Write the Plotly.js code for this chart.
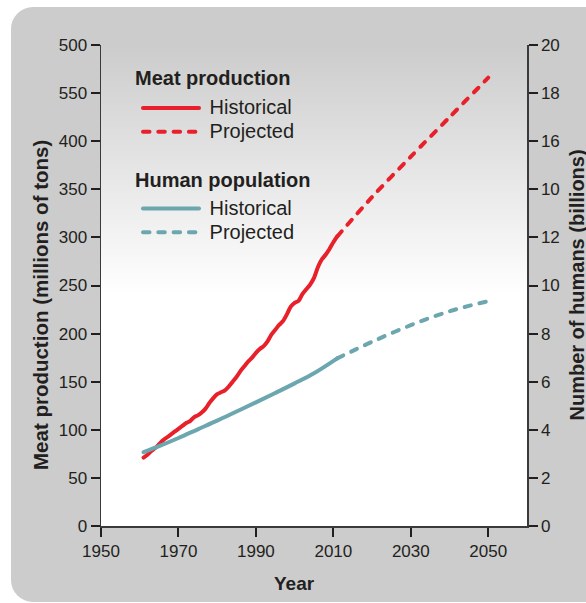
<!DOCTYPE html>
<html>
<head>
<meta charset="utf-8">
<script src="https://cdn.plot.ly/plotly-3.0.1.min.js"></script>
<style>
  html, body { margin: 0; padding: 0; background: #ffffff; }
  #wrap { position: relative; width: 586px; height: 603px; overflow: hidden; }
  #panel { position: absolute; left: 11px; top: 7px; width: 600px; height: 595px;
           border-radius: 22px; background: #cbcccb; }
  #grad { position: absolute; left: 101px; top: 45px; width: 426px; height: 481px;
          background: linear-gradient(to bottom, #cbcccb 0px, #ffffff 250px, #ffffff 481px); }
  #chart { position: absolute; left: 0; top: 0; width: 586px; height: 603px; }
  .scatterlayer path.js-line, .legend path.js-line { stroke-linecap: round; }
</style>
</head>
<body>
<div id="wrap">
  <div id="panel"></div>
  <div id="grad"></div>
  <div id="chart"></div>
</div>
<script>
// ---- data ----
var meatHistYears = [1961,1962,1963,1964,1965,1966,1967,1968,1969,1970,1971,1972,1973,1974,1975,1976,1977,1978,1979,1980,1981,1982,1983,1984,1985,1986,1987,1988,1989,1990,1991,1992,1993,1994,1995,1996,1997,1998,1999,2000,2001,2002,2003,2004,2005,2006,2007,2008,2009,2010,2011];
var meatHistValues = [71,74,78,81,85,89,92,95,98,101,104,107,109,113,115,118,122,128,133,137,139,141,145,150,155,161,166,171,175,180,184,187,192,199,204,209,213,220,228,232,234,241,246,251,258,269,277,282,288,295,301];
var meatProjYears = [2011,2020,2030,2040,2050];
var meatProjValues = [301,342,384,425,466];

var popHistYears = [1961,1965,1970,1975,1980,1985,1990,1995,2000,2005,2011];
var popHistValues = [3.07,3.32,3.66,4.02,4.38,4.76,5.14,5.53,5.93,6.35,6.97];
var popProjYears = [2011,2020,2030,2040,2050];
var popProjValues = [6.97,7.66,8.35,8.93,9.35];

var xTickVals = [1950,1970,1990,2010,2030,2050];
var yTickVals = [0,50,100,150,200,250,300,350,400,450,500];
var yTickText = ['0','50','100','150','200','250','300','350','400','550','500'];
var y2TickVals = [0,2,4,6,8,10,12,14,16,18,20];
var y2TickText = ['0','2','4','6','8','10','12','10','16','18','20'];

var groupTitles = ['Meat production', 'Human population'];
var seriesNames = ['Historical', 'Projected'];

var RED = '#e8202a';
var TEAL = '#6ca6ae';
var INK = '#231f20';
var FONT = '"Liberation Sans", Arial, Helvetica, sans-serif';
var DASH = '6.5px,8.8px';

function lbl(s) { return '<span style="font-size:20px">&nbsp;' + s + '</span>'; }

var traces = [
  {x: meatHistYears, y: meatHistValues, type: 'scatter', mode: 'lines', name: lbl(seriesNames[0]),
   legendgroup: 'meat', line: {color: RED, width: 4, shape: 'spline', smoothing: 0.6}},
  {x: meatProjYears, y: meatProjValues, type: 'scatter', mode: 'lines', name: lbl(seriesNames[1]),
   legendgroup: 'meat', line: {color: RED, width: 4, dash: DASH, shape: 'spline', smoothing: 0.8}},
  {x: popHistYears, y: popHistValues, type: 'scatter', mode: 'lines', name: lbl(seriesNames[0]), yaxis: 'y2',
   legendgroup: 'pop', line: {color: TEAL, width: 4, shape: 'spline', smoothing: 1}},
  {x: popProjYears, y: popProjValues, type: 'scatter', mode: 'lines', name: lbl(seriesNames[1]), yaxis: 'y2',
   legendgroup: 'pop', line: {color: TEAL, width: 4, dash: DASH, shape: 'spline', smoothing: 1}}
];

var axisCommon = {
  showgrid: false, zeroline: false, showline: true, linecolor: '#3a3a3a', linewidth: 1.5,
  ticks: 'outside', ticklen: 9, tickwidth: 2, tickcolor: INK,
  tickfont: {family: FONT, size: 17, color: INK}, fixedrange: true
};

function px2paperX(px) { return (px - 101) / 426; }
function px2paperY(py) { return (526 - py) / 481; }

var layout = {
  width: 586, height: 603,
  margin: {l: 101, r: 59, t: 45, b: 77, pad: 0},
  paper_bgcolor: 'rgba(0,0,0,0)', plot_bgcolor: 'rgba(0,0,0,0)',
  font: {family: FONT, color: INK},
  showlegend: true,
  legend: {
    x: px2paperX(138), y: px2paperY(91), xanchor: 'left', yanchor: 'top',
    bgcolor: 'rgba(0,0,0,0)', borderwidth: 0,
    font: {family: FONT, size: 16, color: INK},
    traceorder: 'grouped', tracegroupgap: 53, itemwidth: 56
  },
  xaxis: Object.assign({}, axisCommon, {range: [1950, 2060], tickvals: xTickVals, ticktext: xTickVals.map(String)}),
  yaxis: Object.assign({}, axisCommon, {range: [0, 500], tickvals: yTickVals, ticktext: yTickText}),
  yaxis2: Object.assign({}, axisCommon, {range: [0, 20], tickvals: y2TickVals, ticktext: y2TickText,
    overlaying: 'y', side: 'right', anchor: 'x'}),
  annotations: [
    {text: '<b>' + groupTitles[0] + '</b>', xref: 'paper', yref: 'paper',
     x: px2paperX(133), y: px2paperY(78), xanchor: 'left', yanchor: 'middle', showarrow: false,
     font: {family: FONT, size: 20, color: INK}},
    {text: '<b>' + groupTitles[1] + '</b>', xref: 'paper', yref: 'paper',
     x: px2paperX(133), y: px2paperY(180), xanchor: 'left', yanchor: 'middle', showarrow: false,
     font: {family: FONT, size: 20, color: INK}},
    {text: '<b>Meat production (millions of tons)</b>', xref: 'paper', yref: 'paper',
     x: px2paperX(40), y: px2paperY(305), xanchor: 'center', yanchor: 'middle', textangle: -90, showarrow: false,
     font: {family: FONT, size: 20.5, color: INK}},
    {text: '<b>Number of humans (billions)</b>', xref: 'paper', yref: 'paper',
     x: px2paperX(576), y: 0.5, xanchor: 'center', yanchor: 'middle', textangle: -90, showarrow: false,
     font: {family: FONT, size: 20, color: INK}},
    {text: '<b>Year</b>', xref: 'x', yref: 'paper', x: 2000, y: px2paperY(583),
     xanchor: 'center', yanchor: 'middle', showarrow: false,
     font: {family: FONT, size: 19, color: INK}}
  ]
};

Plotly.newPlot('chart', traces, layout, {displayModeBar: false, staticPlot: true});
</script>
</body>
</html>
